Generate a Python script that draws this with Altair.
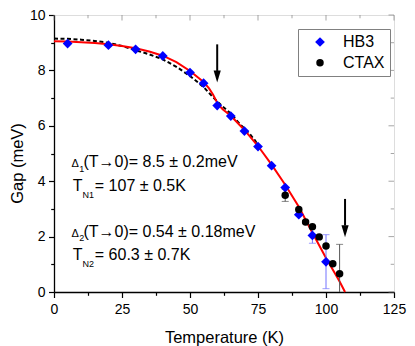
import altair as alt
import pandas as pd

FONT = "Liberation Sans"

# ---- measured data ----
hb3_T = [5, 20, 30, 40, 50, 55, 60, 65, 70, 75, 80, 85, 90, 95, 100]
hb3_gap = [8.97, 8.91, 8.76, 8.52, 7.92, 7.54, 6.73, 6.35, 5.81, 5.25, 4.56, 3.77, 2.79, 2.04, 1.09]
ctax_T = [85, 90, 92.5, 95, 97.5, 100, 102.5, 105]
ctax_gap = [3.49, 2.98, 2.53, 2.36, 1.99, 1.66, 1.02, 0.66]

# error bars
hb3_err_T = [95, 100]
hb3_err_lo = [1.76, 0.12]
hb3_err_hi = [2.32, 2.07]
ctax_err_T = [85, 105]
ctax_err_lo = [3.27, -0.4]
ctax_err_hi = [3.71, 1.72]

# fit curves
red_T = [0, 5, 10, 15, 20, 25, 30, 35, 40, 45, 50, 55, 57, 58.5, 60.3, 62, 65, 70, 75, 80, 85, 90, 95, 100, 103, 105, 107]
red_gap = [9.05, 9.04, 9.02, 8.99, 8.94, 8.88, 8.80, 8.68, 8.53, 8.30, 7.98, 7.58, 7.35, 7.12, 6.78, 6.60, 6.36, 5.85, 5.27, 4.60, 3.87, 3.08, 2.14, 1.23, 0.72, 0.38, 0.0]
dash_T = [0, 5, 10, 15, 20, 25, 30, 35, 40, 45, 50, 55, 58, 60, 62, 65, 68, 70, 72, 74, 76]
dash_gap = [9.15, 9.14, 9.11, 9.06, 9.00, 8.88, 8.73, 8.58, 8.40, 8.13, 7.80, 7.40, 7.08, 6.88, 6.70, 6.44, 6.10, 5.90, 5.70, 5.46, 5.14]

# arrows
arrow_T = [60, 107]
arrow_top = [8.94, 3.36]
arrow_base = [7.98, 2.40]
arrow_tip = [7.56, 1.98]

# annotations
ann_text = ["Δ", "1", "(T→0)= 8.5 ± 0.2meV",
            "T", "N1", "= 107 ± 0.5K",
            "Δ", "2", "(T→0)= 0.54 ± 0.18meV",
            "T", "N2", "= 60.3 ± 0.7K"]
ann_x = [6.45, 9.25, 10.8, 6.85, 10.5, 15.0, 6.45, 9.25, 10.8, 6.85, 10.5, 15.0]
ann_y = [4.50, 4.35, 4.50, 3.66, 3.40, 3.66, 1.98, 1.83, 1.98, 1.17, 0.90, 1.17]
ann_size = [11, 9, 16, 16, 9, 16, 11, 9, 16, 16, 9, 16]

# axis ticks
x_ticks = [0, 12.5, 25, 37.5, 50, 62.5, 75, 87.5, 100, 112.5, 125]
y_ticks = [0, 1, 2, 3, 4, 5, 6, 7, 8, 9, 10]

series_names = ["HB3", "CTAX"]

# ---- frames ----
pts = pd.DataFrame({
    "T": hb3_T + ctax_T,
    "gap": hb3_gap + ctax_gap,
    "series": ["HB3"] * len(hb3_T) + ["CTAX"] * len(ctax_T),
    "zord": [0] * len(hb3_T) + [1] * len(ctax_T),
})
hb3_errs = pd.DataFrame({"T": hb3_err_T, "lo": hb3_err_lo, "hi": hb3_err_hi})
ctax_errs = pd.DataFrame({"T": ctax_err_T, "lo": ctax_err_lo, "hi": ctax_err_hi})
hb3_caps = pd.DataFrame({"T": hb3_err_T * 2, "y": hb3_err_lo + hb3_err_hi})
ctax_caps = pd.DataFrame({"T": ctax_err_T * 2, "y": ctax_err_lo + ctax_err_hi})
red = pd.DataFrame({"T": red_T, "gap": red_gap})
dash = pd.DataFrame({"T": dash_T, "gap": dash_gap})
arrows = pd.DataFrame({"T": arrow_T, "top": arrow_top, "base": arrow_base, "tip": arrow_tip})
ann = pd.DataFrame({"x": ann_x, "y": ann_y, "text": ann_text, "size": ann_size})
top_major = pd.DataFrame({"T": [v for v in x_ticks if v % 25 == 0], "y": 10})
top_minor = pd.DataFrame({"T": [v for v in x_ticks if v % 25 != 0], "y": 10})
right_major = pd.DataFrame({"y": [v for v in y_ticks if v % 2 == 0], "T": 125})
right_minor = pd.DataFrame({"y": [v for v in y_ticks if v % 2 != 0], "T": 125})

xscale = alt.Scale(domain=[0, 125], nice=False, zero=False)
yscale = alt.Scale(domain=[0, 10], nice=False, zero=False)

xaxis = alt.Axis(
    values=x_ticks, labelExpr="datum.value % 25 === 0 ? datum.label : ''",
    title="Temperature (K)", titleFont=FONT, titleFontSize=16.5, titleFontWeight="normal",
    titleColor="black", titleY=50, titleBaseline="alphabetic",
    labelFont=FONT, labelFontSize=14, labelColor="black", labelPadding=5,
    labelFlush=False, labelOverlap=False, labelBound=False,
    tickSize={"condition": {"test": "datum.value % 25 === 0", "value": 5.5}, "value": 3.3},
    tickColor="black", tickWidth=1.2, domainColor="black", domainWidth=1.3, grid=False,
)
yaxis = alt.Axis(
    values=y_ticks, labelExpr="datum.value % 2 === 0 ? datum.label : ''",
    title="Gap (meV)", titleFont=FONT, titleFontSize=16.5, titleFontWeight="normal",
    titleColor="black", titleX=-37, titleY=148, titleAlign="center", titleBaseline="middle",
    labelFont=FONT, labelFontSize=14, labelColor="black", labelPadding=3.5,
    labelFlush=False, labelOverlap=False, labelBound=False,
    tickSize={"condition": {"test": "datum.value % 2 === 0", "value": 5.5}, "value": 3.3},
    tickColor="black", tickWidth=1.2, domainColor="black", domainWidth=1.3, grid=False,
)


def X(field):
    return alt.X(field, type="quantitative", scale=xscale, axis=xaxis)


def Y(field):
    return alt.Y(field, type="quantitative", scale=yscale, axis=yaxis)


dash_layer = alt.Chart(dash).mark_line(color="black", strokeWidth=2, strokeDash=[4, 2.5]).encode(
    x=X("T"), y=Y("gap"))
red_layer = alt.Chart(red).mark_line(color="#ff0000", strokeWidth=2).encode(
    x=X("T"), y=Y("gap"))

hb3_err_layer = alt.Chart(hb3_errs).mark_rule(strokeWidth=1, clip=True, color="#7373ff").encode(
    x=X("T"), y=Y("lo"), y2="hi")
ctax_err_layer = alt.Chart(ctax_errs).mark_rule(strokeWidth=1, clip=True, color="#555555").encode(
    x=X("T"), y=Y("lo"), y2="hi")
hb3_cap_layer = alt.Chart(hb3_caps).mark_tick(orient="horizontal", size=7, thickness=1, clip=True,
                                              color="#7373ff").encode(x=X("T"), y=Y("y"))
ctax_cap_layer = alt.Chart(ctax_caps).mark_tick(orient="horizontal", size=7, thickness=1, clip=True,
                                                color="#555555").encode(x=X("T"), y=Y("y"))

leg = alt.Legend(title=None, orient="none", legendX=244, legendY=14,
                 labelFont=FONT, labelFontSize=16, labelColor="black",
                 padding=5, symbolOffset=9, labelOffset=15, rowPadding=4.7,
                 strokeColor="#808080", fillColor="white", symbolStrokeWidth=0)

pt_layer = alt.Chart(pts).mark_point(filled=True, opacity=1).encode(
    x=X("T"), y=Y("gap"),
    color=alt.Color("series:N", scale=alt.Scale(domain=series_names, range=["#0000ff", "#000000"]),
                    legend=leg),
    shape=alt.Shape("series:N", scale=alt.Scale(domain=series_names, range=["diamond", "circle"]),
                    legend=leg),
    size=alt.Size("series:N", scale=alt.Scale(domain=series_names, range=[95, 56]), legend=leg),
    order=alt.Order("zord:Q"),
)

shaft_layer = alt.Chart(arrows).mark_rule(color="black", strokeWidth=2).encode(
    x=X("T"), y=Y("top"), y2="base")
head_layer = alt.Chart(arrows).mark_point(shape="M-0.6,-2L0.6,-2L0,0Z", filled=True, color="black",
                                           opacity=1, size=144).encode(
    x=X("T"), y=Y("tip"))

ann_layer = alt.Chart(ann).mark_text(align="left", baseline="alphabetic", font=FONT, color="black").encode(
    x=X("x"), y=Y("y"), text="text:N", size=alt.Size("size:Q", scale=None))

tick_col = "#808080"
top_maj = alt.Chart(top_major).mark_tick(orient="vertical", size=5.5, thickness=1, color=tick_col,
                                         yOffset=2.75).encode(x=X("T"), y=Y("y"))
top_min = alt.Chart(top_minor).mark_tick(orient="vertical", size=3.3, thickness=1, color=tick_col,
                                         yOffset=1.65).encode(x=X("T"), y=Y("y"))
right_maj = alt.Chart(right_major).mark_tick(orient="horizontal", size=5.5, thickness=1, color=tick_col,
                                             xOffset=-2.75).encode(x=X("T"), y=Y("y"))
right_min = alt.Chart(right_minor).mark_tick(orient="horizontal", size=3.3, thickness=1, color=tick_col,
                                             xOffset=-1.65).encode(x=X("T"), y=Y("y"))

chart = alt.layer(
    top_maj, top_min, right_maj, right_min,
    dash_layer, red_layer, hb3_err_layer, ctax_err_layer, hb3_cap_layer, ctax_cap_layer,
    pt_layer, shaft_layer, head_layer, ann_layer,
).properties(
    width=340, height=277,
    autosize=alt.AutoSizeParams(type="none"),
    padding={"left": 46, "top": 7, "right": 13, "bottom": 54},
).configure_view(
    stroke="#808080", strokeWidth=1.3
).configure(background="white")

chart.save("out.html", embed_options={"renderer": "svg", "actions": False})
